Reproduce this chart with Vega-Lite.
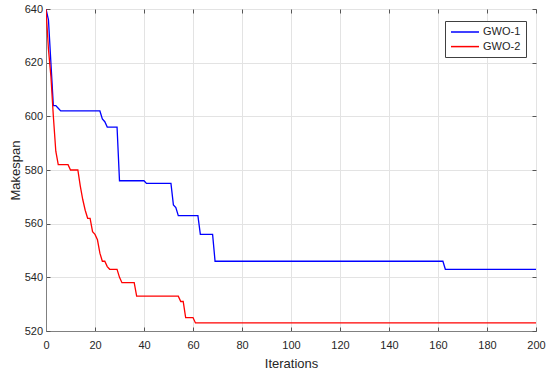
{
  "$schema": "https://vega.github.io/schema/vega-lite/v6.json",
  "width": 490,
  "height": 322,
  "autosize": {"type": "none"},
  "padding": {"left": 46, "top": 9, "right": 14, "bottom": 41},
  "background": "white",
  "config": {
    "font": "Liberation Sans",
    "view": {"stroke": "#808080", "strokeWidth": 1},
    "axis": {
      "labelFont": "Liberation Sans",
      "titleFont": "Liberation Sans",
      "labelFontSize": 11,
      "titleFontSize": 13,
      "titleFontWeight": "normal",
      "labelColor": "#262626",
      "titleColor": "#262626",
      "domainColor": "#808080",
      "tickColor": "#555555",
      "gridColor": "#e3e3e3",
      "gridWidth": 1
    }
  },
  "data": {
    "values": [
      {"iter": 0, "value": 640, "series": "GWO-1"},
      {"iter": 1, "value": 636, "series": "GWO-1"},
      {"iter": 2, "value": 620, "series": "GWO-1"},
      {"iter": 3, "value": 604, "series": "GWO-1"},
      {"iter": 4, "value": 604, "series": "GWO-1"},
      {"iter": 5, "value": 603, "series": "GWO-1"},
      {"iter": 6, "value": 602, "series": "GWO-1"},
      {"iter": 22, "value": 602, "series": "GWO-1"},
      {"iter": 23, "value": 599, "series": "GWO-1"},
      {"iter": 24, "value": 598, "series": "GWO-1"},
      {"iter": 25, "value": 596, "series": "GWO-1"},
      {"iter": 29, "value": 596, "series": "GWO-1"},
      {"iter": 30, "value": 576, "series": "GWO-1"},
      {"iter": 40, "value": 576, "series": "GWO-1"},
      {"iter": 41, "value": 575, "series": "GWO-1"},
      {"iter": 51, "value": 575, "series": "GWO-1"},
      {"iter": 52, "value": 567, "series": "GWO-1"},
      {"iter": 53, "value": 566, "series": "GWO-1"},
      {"iter": 54, "value": 563, "series": "GWO-1"},
      {"iter": 62, "value": 563, "series": "GWO-1"},
      {"iter": 63, "value": 556, "series": "GWO-1"},
      {"iter": 68, "value": 556, "series": "GWO-1"},
      {"iter": 69, "value": 546, "series": "GWO-1"},
      {"iter": 162, "value": 546, "series": "GWO-1"},
      {"iter": 163, "value": 543, "series": "GWO-1"},
      {"iter": 200, "value": 543, "series": "GWO-1"},
      {"iter": 0, "value": 640, "series": "GWO-2"},
      {"iter": 1, "value": 625, "series": "GWO-2"},
      {"iter": 2, "value": 615, "series": "GWO-2"},
      {"iter": 3, "value": 600, "series": "GWO-2"},
      {"iter": 4, "value": 587, "series": "GWO-2"},
      {"iter": 5, "value": 582, "series": "GWO-2"},
      {"iter": 9, "value": 582, "series": "GWO-2"},
      {"iter": 10, "value": 580, "series": "GWO-2"},
      {"iter": 13, "value": 580, "series": "GWO-2"},
      {"iter": 14, "value": 574, "series": "GWO-2"},
      {"iter": 15, "value": 569, "series": "GWO-2"},
      {"iter": 16, "value": 565, "series": "GWO-2"},
      {"iter": 17, "value": 562, "series": "GWO-2"},
      {"iter": 18, "value": 562, "series": "GWO-2"},
      {"iter": 19, "value": 557, "series": "GWO-2"},
      {"iter": 20, "value": 556, "series": "GWO-2"},
      {"iter": 21, "value": 554, "series": "GWO-2"},
      {"iter": 22, "value": 549, "series": "GWO-2"},
      {"iter": 23, "value": 546, "series": "GWO-2"},
      {"iter": 24, "value": 546, "series": "GWO-2"},
      {"iter": 25, "value": 544, "series": "GWO-2"},
      {"iter": 26, "value": 543, "series": "GWO-2"},
      {"iter": 29, "value": 543, "series": "GWO-2"},
      {"iter": 30, "value": 540, "series": "GWO-2"},
      {"iter": 31, "value": 538, "series": "GWO-2"},
      {"iter": 36, "value": 538, "series": "GWO-2"},
      {"iter": 37, "value": 533, "series": "GWO-2"},
      {"iter": 54, "value": 533, "series": "GWO-2"},
      {"iter": 55, "value": 531, "series": "GWO-2"},
      {"iter": 56, "value": 531, "series": "GWO-2"},
      {"iter": 57, "value": 525, "series": "GWO-2"},
      {"iter": 60, "value": 525, "series": "GWO-2"},
      {"iter": 61, "value": 523, "series": "GWO-2"},
      {"iter": 200, "value": 523, "series": "GWO-2"}
    ]
  },
  "resolve": {"axis": {"x": "independent", "y": "independent"}},
  "layer": [
    {
      "mark": {"type": "line", "opacity": 0, "clip": true},
      "encoding": {
        "x": {
          "field": "iter",
          "type": "quantitative",
          "scale": {"domain": [0, 200], "nice": false, "zero": false},
          "axis": {"orient": "top", "values": [0, 20, 40, 60, 80, 100, 120, 140, 160, 180, 200], "tickSize": -4, "labels": false, "grid": false, "domain": false, "title": null}
        },
        "y": {
          "field": "value",
          "type": "quantitative",
          "scale": {"domain": [520, 640], "nice": false, "zero": false},
          "axis": {"orient": "right", "values": [520, 540, 560, 580, 600, 620, 640], "tickSize": -4, "labels": false, "grid": false, "domain": false, "title": null}
        },
        "detail": {"field": "series", "type": "nominal"}
      }
    },
    {
      "mark": {"type": "line", "strokeWidth": 1.3, "clip": true},
      "encoding": {
        "x": {
          "field": "iter",
          "type": "quantitative",
          "title": "Iterations",
          "scale": {"domain": [0, 200], "nice": false, "zero": false},
          "axis": {"orient": "bottom", "grid": true, "values": [0, 20, 40, 60, 80, 100, 120, 140, 160, 180, 200], "tickSize": -4, "labelPadding": 12.5, "titlePadding": 7, "labelFlush": false}
        },
        "y": {
          "field": "value",
          "type": "quantitative",
          "title": "Makespan",
          "scale": {"domain": [520, 640], "nice": false, "zero": false},
          "axis": {"orient": "left", "grid": true, "values": [520, 540, 560, 580, 600, 620, 640], "tickSize": -4, "labelPadding": 7.5, "titlePadding": 2, "labelFlush": false}
        },
        "color": {
          "field": "series",
          "type": "nominal",
          "scale": {"domain": ["GWO-1", "GWO-2"], "range": ["#0000ff", "#ff0000"]},
          "legend": {
            "title": null,
            "orient": "none",
            "legendX": 399,
            "legendY": 12,
            "symbolType": "M-2.8,0H2.8",
            "symbolSize": 100,
            "symbolStrokeWidth": 1.5,
            "symbolOffset": 9,
            "labelFontSize": 11,
            "labelFont": "Liberation Sans",
            "labelColor": "#262626",
            "labelOffset": 12,
            "rowPadding": 3.6,
            "padding": 5,
            "fillColor": "white",
            "strokeColor": "#404040"
          }
        }
      }
    }
  ]
}
